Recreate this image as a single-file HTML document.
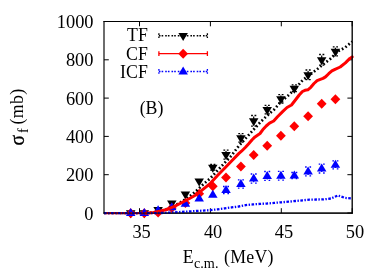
<!DOCTYPE html>
<html><head><meta charset="utf-8"><title>Fusion cross sections</title>
<style>
html,body{margin:0;padding:0;background:#fff;}
body{width:382px;height:268px;overflow:hidden;font-family:"Liberation Serif",serif;}
svg{display:block;position:absolute;left:0;top:0;}
text{font-family:"Liberation Serif",serif;fill:#000;}
</style></head><body>
<svg width="382" height="268" viewBox="0 0 382 268" style="will-change:transform">
<rect x="0" y="0" width="382" height="268" fill="#fff"/>

<text transform="translate(93.55,219.8) scale(1.035,1)" font-size="17.8" text-anchor="end">0</text>
<text transform="translate(93.55,181.1) scale(1.035,1)" font-size="17.8" text-anchor="end">200</text>
<text transform="translate(93.55,143.4) scale(1.035,1)" font-size="17.8" text-anchor="end">400</text>
<text transform="translate(93.55,104.8) scale(1.035,1)" font-size="17.8" text-anchor="end">600</text>
<text transform="translate(93.55,65.9) scale(1.035,1)" font-size="17.8" text-anchor="end">800</text>
<text transform="translate(93.55,28.3) scale(1.035,1)" font-size="17.8" text-anchor="end">1000</text>
<text transform="translate(141.6,237.6) scale(1.035,1)" font-size="17.8" text-anchor="middle">35</text>
<text transform="translate(213.1,237.6) scale(1.035,1)" font-size="17.8" text-anchor="middle">40</text>
<text transform="translate(284.0,237.6) scale(1.035,1)" font-size="17.8" text-anchor="middle">45</text>
<text transform="translate(354.9,237.6) scale(1.035,1)" font-size="17.8" text-anchor="middle">50</text>
<text x="182.8" y="262.7" font-size="17.8">E</text>
<text x="194.0" y="267.6" font-size="14.2">c.m.</text>
<text x="224.1" y="262.6" font-size="17.8" letter-spacing="0.25">(MeV)</text>
<text transform="translate(24,145.6) rotate(-90) scale(0.9,1)" font-size="21.5" stroke="#000" stroke-width="0.3">σ</text>
<text transform="translate(27.8,133.1) rotate(-90)" font-size="14.2">f</text>
<text transform="translate(22.5,124.6) rotate(-90)" font-size="17.8" letter-spacing="0.4">(mb)</text>
<text x="151.5" y="113.85" font-size="17.8" text-anchor="middle">(B)</text>
<text x="148.1" y="41.4" font-size="17.8" text-anchor="end" letter-spacing="0.15">TF</text>
<path d="M158.9,35.65H207.4" stroke="#000" stroke-width="1.45" stroke-dasharray="1.6,1.1,1.6,2.0" fill="none"/>
<path d="M158.9,33.3v4.7 M207.4,33.3v4.7" stroke="#000" stroke-width="1.3" stroke-dasharray="1.6,1.5" fill="none"/>
<text x="148.1" y="59.75" font-size="17.8" text-anchor="end" letter-spacing="0.15">CF</text>
<path d="M158.9,53.65H207.4" stroke="#f00" stroke-width="1.3" fill="none"/>
<path d="M158.9,51.3v4.7 M207.4,51.3v4.7" stroke="#f00" stroke-width="1.3" fill="none"/>
<text x="148.1" y="77.5" font-size="17.8" text-anchor="end" letter-spacing="0.15">ICF</text>
<path d="M158.9,71.4H207.4" stroke="#00f" stroke-width="1.45" stroke-dasharray="1.6,1.1,1.6,2.0" fill="none"/>
<path d="M158.9,69.05000000000001v4.7 M207.4,69.05000000000001v4.7" stroke="#00f" stroke-width="1.3" stroke-dasharray="1.6,1.5" fill="none"/>
<path d="M178.40,33.00h9.5l-4.75,8.0z" fill="#000"/>
<path d="M183.15,48.65l4.9,5.0l-4.9,5.0l-4.9,-5.0z" fill="#f00"/>
<path d="M178.40,74.40h9.5l-4.75,-8.0z" fill="#00f"/>
<clipPath id="c"><rect x="104.0" y="21.5" width="248.2" height="196.5"/></clipPath>
<path d="M139.5,213.0v-4.8 M139.5,21.5v4.8" stroke="#000" stroke-width="1" fill="none"/>
<path d="M210.4,213.0v-4.8 M210.4,21.5v4.8" stroke="#000" stroke-width="1" fill="none"/>
<path d="M281.3,213.0v-4.8 M281.3,21.5v4.8" stroke="#000" stroke-width="1" fill="none"/>
<path d="M352.2,213.0v-4.8 M352.2,21.5v4.8" stroke="#000" stroke-width="1" fill="none"/>
<path d="M104.0,213.0h4.8 M352.2,213.0h-4.8" stroke="#000" stroke-width="1" fill="none"/>
<path d="M104.0,174.7h4.8 M352.2,174.7h-4.8" stroke="#000" stroke-width="1" fill="none"/>
<path d="M104.0,136.4h4.8 M352.2,136.4h-4.8" stroke="#000" stroke-width="1" fill="none"/>
<path d="M104.0,98.1h4.8 M352.2,98.1h-4.8" stroke="#000" stroke-width="1" fill="none"/>
<path d="M104.0,59.8h4.8 M352.2,59.8h-4.8" stroke="#000" stroke-width="1" fill="none"/>
<path d="M104.0,21.5h4.8 M352.2,21.5h-4.8" stroke="#000" stroke-width="1" fill="none"/>
<path d="M103.5,213.0H352.8" stroke="#000" stroke-width="1.25" fill="none"/>
<path d="M125.95,210.35h9.5l-4.75,8.0z" fill="#000"/>
<path d="M139.55,210.35h9.5l-4.75,8.0z" fill="#000"/>
<path d="M153.35,207.05h9.5l-4.75,8.0z" fill="#000"/>
<path d="M167.05,200.55h9.5l-4.75,8.0z" fill="#000"/>
<path d="M180.65,191.55h9.5l-4.75,8.0z" fill="#000"/>
<path d="M194.45,178.55h9.5l-4.75,8.0z" fill="#000"/>
<path d="M212.8,165.4V169.2" stroke="#000" stroke-width="1.2" fill="none"/><path d="M210.2,164.5h1.8 M213.6,164.5h1.8 M210.2,170.1h1.8 M213.6,170.1h1.8" stroke="#000" stroke-width="1.3" fill="none"/>
<path d="M208.05,164.65h9.5l-4.75,8.0z" fill="#000"/>
<path d="M226.0,151.1V158.3" stroke="#000" stroke-width="1.2" fill="none"/><path d="M223.4,150.2h1.8 M226.8,150.2h1.8 M223.4,159.2h1.8 M226.8,159.2h1.8" stroke="#000" stroke-width="1.3" fill="none"/>
<path d="M221.25,152.05h9.5l-4.75,8.0z" fill="#000"/>
<path d="M240.9,134.6V141.2" stroke="#000" stroke-width="1.2" fill="none"/><path d="M238.3,133.7h1.8 M241.7,133.7h1.8 M238.3,142.1h1.8 M241.7,142.1h1.8" stroke="#000" stroke-width="1.3" fill="none"/>
<path d="M236.15,135.25h9.5l-4.75,8.0z" fill="#000"/>
<path d="M253.7,116.4V125.2" stroke="#000" stroke-width="1.2" fill="none"/><path d="M251.1,115.5h1.8 M254.5,115.5h1.8 M251.1,126.1h1.8 M254.5,126.1h1.8" stroke="#000" stroke-width="1.3" fill="none"/>
<path d="M248.95,118.15h9.5l-4.75,8.0z" fill="#000"/>
<path d="M267.2,106.2V113.0" stroke="#000" stroke-width="1.2" fill="none"/><path d="M264.6,105.3h1.8 M268.0,105.3h1.8 M264.6,113.9h1.8 M268.0,113.9h1.8" stroke="#000" stroke-width="1.3" fill="none"/>
<path d="M262.45,106.95h9.5l-4.75,8.0z" fill="#000"/>
<path d="M280.9,95.5V102.1" stroke="#000" stroke-width="1.2" fill="none"/><path d="M278.3,94.6h1.8 M281.7,94.6h1.8 M278.3,103.0h1.8 M281.7,103.0h1.8" stroke="#000" stroke-width="1.3" fill="none"/>
<path d="M276.15,96.15h9.5l-4.75,8.0z" fill="#000"/>
<path d="M294.3,85.8V90.8" stroke="#000" stroke-width="1.2" fill="none"/><path d="M291.7,84.9h1.8 M295.1,84.9h1.8 M291.7,91.7h1.8 M295.1,91.7h1.8" stroke="#000" stroke-width="1.3" fill="none"/>
<path d="M289.55,85.65h9.5l-4.75,8.0z" fill="#000"/>
<path d="M308.1,70.9V78.7" stroke="#000" stroke-width="1.2" fill="none"/><path d="M305.5,70.0h1.8 M308.9,70.0h1.8 M305.5,79.6h1.8 M308.9,79.6h1.8" stroke="#000" stroke-width="1.3" fill="none"/>
<path d="M303.35,72.15h9.5l-4.75,8.0z" fill="#000"/>
<path d="M321.7,55.4V64.2" stroke="#000" stroke-width="1.2" fill="none"/><path d="M319.1,54.5h1.8 M322.5,54.5h1.8 M319.1,65.1h1.8 M322.5,65.1h1.8" stroke="#000" stroke-width="1.3" fill="none"/>
<path d="M316.95,57.15h9.5l-4.75,8.0z" fill="#000"/>
<path d="M335.4,47.7V54.9" stroke="#000" stroke-width="1.2" fill="none"/><path d="M332.8,46.8h1.8 M336.2,46.8h1.8 M332.8,55.8h1.8 M336.2,55.8h1.8" stroke="#000" stroke-width="1.3" fill="none"/>
<path d="M330.65,48.65h9.5l-4.75,8.0z" fill="#000"/>
<path d="M130.70,208.30l4.9,5.0l-4.9,5.0l-4.9,-5.0z" fill="#f00"/>
<path d="M144.30,208.30l4.9,5.0l-4.9,5.0l-4.9,-5.0z" fill="#f00"/>
<path d="M158.10,207.50l4.9,5.0l-4.9,5.0l-4.9,-5.0z" fill="#f00"/>
<path d="M171.80,203.00l4.9,5.0l-4.9,5.0l-4.9,-5.0z" fill="#f00"/>
<path d="M185.40,198.00l4.9,5.0l-4.9,5.0l-4.9,-5.0z" fill="#f00"/>
<path d="M199.20,188.80l4.9,5.0l-4.9,5.0l-4.9,-5.0z" fill="#f00"/>
<path d="M212.80,181.25l4.9,5.0l-4.9,5.0l-4.9,-5.0z" fill="#f00"/>
<path d="M226.00,172.55l4.9,5.0l-4.9,5.0l-4.9,-5.0z" fill="#f00"/>
<path d="M240.90,161.55l4.9,5.0l-4.9,5.0l-4.9,-5.0z" fill="#f00"/>
<path d="M253.70,150.05l4.9,5.0l-4.9,5.0l-4.9,-5.0z" fill="#f00"/>
<path d="M267.20,140.85l4.9,5.0l-4.9,5.0l-4.9,-5.0z" fill="#f00"/>
<path d="M280.90,130.65l4.9,5.0l-4.9,5.0l-4.9,-5.0z" fill="#f00"/>
<path d="M294.30,121.35l4.9,5.0l-4.9,5.0l-4.9,-5.0z" fill="#f00"/>
<path d="M308.10,111.15l4.9,5.0l-4.9,5.0l-4.9,-5.0z" fill="#f00"/>
<path d="M321.70,98.85l4.9,5.0l-4.9,5.0l-4.9,-5.0z" fill="#f00"/>
<path d="M335.40,94.35l4.9,5.0l-4.9,5.0l-4.9,-5.0z" fill="#f00"/>
<path d="M125.95,216.00h9.5l-4.75,-8.0z" fill="#00f"/>
<path d="M139.55,216.00h9.5l-4.75,-8.0z" fill="#00f"/>
<path d="M153.35,213.30h9.5l-4.75,-8.0z" fill="#00f"/>
<path d="M167.05,210.20h9.5l-4.75,-8.0z" fill="#00f"/>
<path d="M180.65,206.80h9.5l-4.75,-8.0z" fill="#00f"/>
<path d="M194.45,201.60h9.5l-4.75,-8.0z" fill="#00f"/>
<path d="M208.05,197.80h9.5l-4.75,-8.0z" fill="#00f"/>
<path d="M226.0,187.4V192.6" stroke="#00f" stroke-width="1.2" fill="none"/><path d="M223.0,186.5h1.6 M227.4,186.5h1.6 M223.0,193.5h1.6 M227.4,193.5h1.6" stroke="#00f" stroke-width="1.3" fill="none"/>
<path d="M221.25,193.00h9.5l-4.75,-8.0z" fill="#00f"/>
<path d="M240.9,180.7V187.3" stroke="#00f" stroke-width="1.2" fill="none"/><path d="M237.9,179.8h1.6 M242.3,179.8h1.6 M237.9,188.2h1.6 M242.3,188.2h1.6" stroke="#00f" stroke-width="1.3" fill="none"/>
<path d="M236.15,187.00h9.5l-4.75,-8.0z" fill="#00f"/>
<path d="M253.7,174.9V182.3" stroke="#00f" stroke-width="1.2" fill="none"/><path d="M250.7,174.0h1.6 M255.1,174.0h1.6 M250.7,183.2h1.6 M255.1,183.2h1.6" stroke="#00f" stroke-width="1.3" fill="none"/>
<path d="M248.95,181.60h9.5l-4.75,-8.0z" fill="#00f"/>
<path d="M267.2,172.4V179.4" stroke="#00f" stroke-width="1.2" fill="none"/><path d="M264.2,171.5h1.6 M268.6,171.5h1.6 M264.2,180.3h1.6 M268.6,180.3h1.6" stroke="#00f" stroke-width="1.3" fill="none"/>
<path d="M262.45,178.90h9.5l-4.75,-8.0z" fill="#00f"/>
<path d="M280.9,172.2V179.2" stroke="#00f" stroke-width="1.2" fill="none"/><path d="M277.9,171.3h1.6 M282.3,171.3h1.6 M277.9,180.1h1.6 M282.3,180.1h1.6" stroke="#00f" stroke-width="1.3" fill="none"/>
<path d="M276.15,178.70h9.5l-4.75,-8.0z" fill="#00f"/>
<path d="M294.3,173.4V177.6" stroke="#00f" stroke-width="1.2" fill="none"/><path d="M291.3,172.5h1.6 M295.7,172.5h1.6 M291.3,178.5h1.6 M295.7,178.5h1.6" stroke="#00f" stroke-width="1.3" fill="none"/>
<path d="M289.55,178.50h9.5l-4.75,-8.0z" fill="#00f"/>
<path d="M308.1,167.9V174.9" stroke="#00f" stroke-width="1.2" fill="none"/><path d="M305.1,167.0h1.6 M309.5,167.0h1.6 M305.1,175.8h1.6 M309.5,175.8h1.6" stroke="#00f" stroke-width="1.3" fill="none"/>
<path d="M303.35,174.40h9.5l-4.75,-8.0z" fill="#00f"/>
<path d="M321.7,165.1V172.1" stroke="#00f" stroke-width="1.2" fill="none"/><path d="M318.7,164.2h1.6 M323.1,164.2h1.6 M318.7,173.0h1.6 M323.1,173.0h1.6" stroke="#00f" stroke-width="1.3" fill="none"/>
<path d="M316.95,171.60h9.5l-4.75,-8.0z" fill="#00f"/>
<path d="M335.4,161.7V167.9" stroke="#00f" stroke-width="1.2" fill="none"/><path d="M332.4,160.8h1.6 M336.8,160.8h1.6 M332.4,168.8h1.6 M336.8,168.8h1.6" stroke="#00f" stroke-width="1.3" fill="none"/>
<path d="M330.65,167.80h9.5l-4.75,-8.0z" fill="#00f"/>
<polyline points="104.0,213.2 146.0,213.2" fill="none" stroke="#000" stroke-width="2.0" stroke-dasharray="1.7,2.3"/>
<polyline points="146.0,213.2 153.6,212.4 160.7,210.8 167.8,208.8 174.9,205.6 182.0,201.5 189.1,196.8 196.2,191.0 203.3,184.3 210.4,178.2 217.5,170.5 224.6,162.9 231.6,155.5 238.7,146.0 245.8,138.2 252.9,130.4 260.0,122.5 267.1,115.6 274.2,109.5 281.3,101.4 288.4,95.4 295.5,88.3 302.6,80.2 309.7,74.9 316.7,69.6 323.8,63.9 330.9,58.4 338.0,51.3 345.1,47.5 352.2,41.6" fill="none" stroke="#000" stroke-width="2.7" stroke-dasharray="1.7,2.3" stroke-linejoin="round"/>
<polyline points="104.0,213.2 146.0,213.2" fill="none" stroke="#f00" stroke-width="2.2"/>
<polyline points="146.0,213.2 153.6,212.5 160.7,211.0 167.8,209.2 174.9,206.2 182.0,202.5 189.1,198.7 196.2,194.8 203.3,189.1 210.4,183.3 217.5,175.5 224.6,168.2 231.6,161.0 238.7,153.6 241.5,151.2 245.5,147.3 248.7,143.8 251.9,140.0 255.0,136.9 260.0,133.5 262.7,129.8 266.2,126.0 269.5,123.2 273.7,121.0 277.5,116.7 282.6,111.6 287.0,107.5 291.5,105.0 295.4,100.0 299.2,95.0 302.4,91.5 305.0,90.3 307.8,89.8 310.8,87.3 314.0,83.5 317.1,80.7 320.3,79.4 323.0,78.4 325.5,76.9 328.7,73.7 331.9,70.9 335.0,69.3 340.2,67.0 345.4,62.9 349.9,58.4 352.2,56.9" fill="none" stroke="#f00" stroke-width="3.0" stroke-linejoin="round" stroke-linecap="round"/>
<polyline points="104.0,213.2 146.0,213.2" fill="none" stroke="#00f" stroke-width="2.2" stroke-dasharray="2.6,1.5,1.4,1.5"/>
<polyline points="146.0,213.2 153.6,213.1 160.7,213.0 167.8,212.7 174.9,212.3 182.0,211.9 189.1,211.5 196.2,211.0 203.3,210.6 210.4,210.1 217.5,209.3 224.6,208.4 231.6,207.4 238.7,206.5 245.8,205.1 252.9,204.4 260.0,203.9 267.1,203.5 274.2,202.9 281.3,202.3 288.4,201.7 295.5,201.0 302.6,200.3 309.7,199.6 316.7,199.5 323.8,199.4 330.9,198.5 338.0,195.5 345.1,197.9 352.2,198.5" fill="none" stroke="#00f" stroke-width="2.3" stroke-dasharray="2.6,1.5,1.4,1.5" stroke-dashoffset="-1" stroke-linejoin="round"/>
<path d="M104.0,213.6V20.9" stroke="#000" stroke-width="1.15" fill="none"/>
<path d="M103.5,21.5H352.8" stroke="#000" stroke-width="1.2" fill="none"/>
<path d="M352.2,20.9V213.6" stroke="#000" stroke-width="1.35" fill="none"/>
<path d="M103.5,213.0H352.8" stroke="#000" stroke-width="1.25" stroke-opacity="0.7" fill="none"/>
</svg>
</body></html>
